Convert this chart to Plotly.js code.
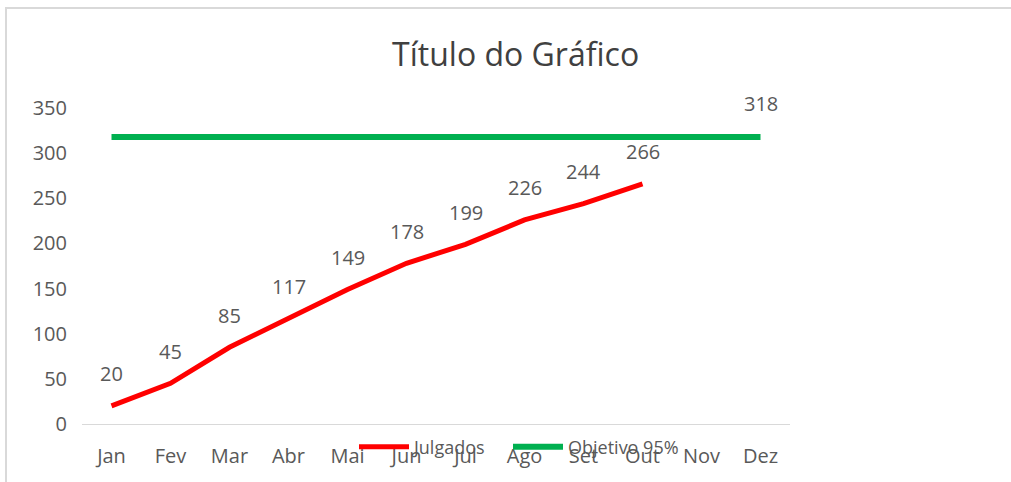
<!DOCTYPE html>
<html><head><meta charset="utf-8">
<script src="https://cdn.plot.ly/plotly-3.0.1.min.js"></script>
<style>
html,body{margin:0;padding:0;background:#fff;}
#frame{position:absolute;left:5px;top:7px;width:1006px;height:475px;border-top:2px solid #d9d9d9;border-left:2px solid #d9d9d9;}
#chart{position:absolute;left:0;top:0;width:1011px;height:482px;}
</style></head>
<body>
<div id="frame"></div>
<div id="chart"></div>
<script>
const months = ["Jan","Fev","Mar","Abr","Mai","Jun","Jul","Ago","Set","Out","Nov","Dez"];
const julgados = [20,45,85,117,149,178,199,226,244,266,null,null];
const objetivo = [318,318,318,318,318,318,318,318,318,318,318,318];
const objetivoLabelIdx = [11];

const font = "Open Sans, Noto Sans, sans-serif";
const grey = "#595959";

const traces = [
  {x: months, y: julgados, name: "Julgados", type: "scatter", mode: "lines",
   line: {color: "#FF0000", width: 5}, connectgaps: false, legend: "legend"},
  {x: months, y: objetivo, name: "Objetivo 95%", type: "scatter", mode: "lines",
   line: {color: "#00B050", width: 6}, legend: "legend2"}
];

const annotations = [];
julgados.forEach((v, i) => {
  if (v !== null) annotations.push({x: months[i], y: v, text: String(v), showarrow: false,
    yshift: 32, font: {family: font, size: 20, color: grey}});
});
objetivoLabelIdx.forEach(i => annotations.push({x: months[i], y: objetivo[i], text: String(objetivo[i]),
  showarrow: false, yshift: 33, font: {family: font, size: 20, color: grey}}));

const legendBase = {orientation: "h", xanchor: "left", y: -0.073, yanchor: "middle",
  bgcolor: "rgba(0,0,0,0)", font: {family: font, size: 18, color: grey}, itemwidth: 50};

const layout = {
  width: 1011, height: 482,
  paper_bgcolor: "rgba(0,0,0,0)", plot_bgcolor: "rgba(0,0,0,0)",
  margin: {l: 82, r: 221, t: 108, b: 58},
  title: {text: "Título do Gráfico", font: {family: font, size: 32, color: "#404040"},
    x: 0.51, xref: "container", xanchor: "center", y: 1 - 55/482, yref: "container", yanchor: "middle"},
  font: {family: font, color: grey},
  xaxis: {type: "category", range: [-0.5, 11.5], showgrid: false, zeroline: false,
    showline: true, linecolor: "#d9d9d9", linewidth: 1, ticks: "",
    tickfont: {family: font, size: 20, color: grey}, ticklabelstandoff: 14, fixedrange: true},
  yaxis: {range: [0, 350], dtick: 50, showgrid: false, zeroline: false, showline: false,
    ticks: "", tickfont: {family: font, size: 20, color: grey}, ticklabelstandoff: 14, fixedrange: true},
  showlegend: true,
  legend: Object.assign({}, legendBase, {x: (354 - 82) / 708}),
  legend2: Object.assign({}, legendBase, {x: (508 - 82) / 708}),
  annotations: annotations
};

Plotly.newPlot("chart", traces, layout, {displayModeBar: false, staticPlot: true});
</script>
</body></html>
